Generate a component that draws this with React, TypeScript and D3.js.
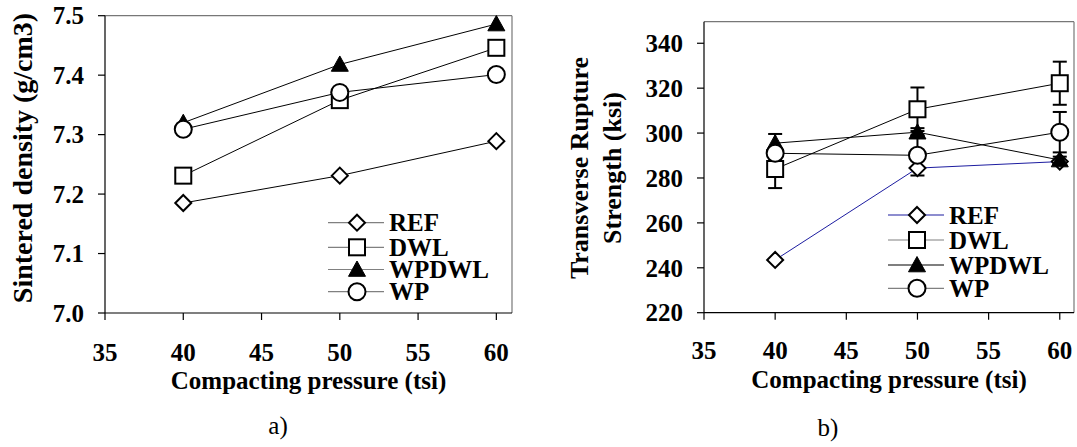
import React from 'react';
import * as d3 from 'd3';

// data
const pressures = [40, 50, 60];
const seriesNames = ['REF', 'DWL', 'WPDWL', 'WP'];

const densityREF = [7.185, 7.231, 7.289];
const densityDWL = [7.231, 7.358, 7.446];
const densityWPDWL = [7.32, 7.418, 7.486];
const densityWP = [7.309, 7.371, 7.401];

const trsREF = [243.5, 284.4, 287.3];
const trsDWL = [284, 310.6, 322.2];
const trsWPDWL = [295.5, 300.4, 288];
const trsWP = [291, 290.1, 300.4];

const trsErrREF = [0, 0, 0];
const trsErrDWL = [8.5, 9.7, 9.6];
const trsErrWPDWL = [4.1, 1.8, 1.5];
const trsErrWP = [0, 9, 9];

const xTicks = [35, 40, 45, 50, 55, 60];
const densityTicks = [7.0, 7.1, 7.2, 7.3, 7.4, 7.5];
const trsTicks = [220, 240, 260, 280, 300, 320, 340];

const FONT = "'Liberation Serif', 'Times New Roman', Times, 'DejaVu Serif', serif";
const FS = 25;
const txt = { fontFamily: FONT };

type Series = { name: string; values: number[]; errors?: number[] };

function Marker({ name, x, y }: { name: string; x: number; y: number }) {
  const sw = 2;
  if (name === 'REF') {
    const s = 8;
    return (
      <path
        d={`M${x},${y - s}L${x + s},${y}L${x},${y + s}L${x - s},${y}Z`}
        fill="#fff"
        stroke="#000"
        strokeWidth={sw}
      />
    );
  }
  if (name === 'DWL') {
    const s = 8;
    return <rect x={x - s} y={y - s} width={s * 2} height={s * 2} fill="#fff" stroke="#000" strokeWidth={sw} />;
  }
  if (name === 'WPDWL') {
    const s = 8.5;
    return <path d={`M${x},${y - s}L${x + s},${y + s * 0.8}L${x - s},${y + s * 0.8}Z`} fill="#000" stroke="#000" strokeWidth={1} />;
  }
  return <circle cx={x} cy={y} r={8.5} fill="#fff" stroke="#000" strokeWidth={sw} />;
}

type PanelProps = {
  left: number;
  right: number;
  top: number;
  bottom: number;
  yDomain: [number, number];
  yTicks: number[];
  yFormat: (v: number) => string;
  series: Series[];
  lineColors: string[];
  legendColors: string[];
  legendX: number;
  legendY: number[];
  yTitle: { lines: string[]; xs: number[]; cy: number; size: number };
  xLabelY: number;
  xTitleY: number;
  caption: string;
  captionX: number;
  captionY: number;
};

function Panel(p: PanelProps) {
  const x = d3.scaleLinear().domain([35, 61]).range([p.left, p.right]);
  const y = d3.scaleLinear().domain(p.yDomain).range([p.bottom, p.top]);
  const line = d3
    .line<number>()
    .x((_, i) => x(pressures[i]))
    .y((d) => y(d));
  const tick = 7;

  return (
    <g fill="#000">
      {/* frame */}
      <line x1={p.left} x2={p.right} y1={p.top} y2={p.top} stroke="#777" strokeWidth={1.2} />
      <line x1={p.right} x2={p.right} y1={p.top} y2={p.bottom} stroke="#777" strokeWidth={1.2} />
      <line x1={p.left} x2={p.left} y1={p.top} y2={p.bottom} stroke="#000" strokeWidth={1.2} />
      <line x1={p.left} x2={p.right} y1={p.bottom} y2={p.bottom} stroke="#000" strokeWidth={1.2} />

      {p.yTicks.map((t) => (
        <g key={'y' + t}>
          <line x1={p.left - tick} x2={p.left} y1={y(t)} y2={y(t)} stroke="#000" strokeWidth={1.2} />
          <text style={txt} x={p.left - 21} y={y(t)} dy="0.35em" textAnchor="end" fontSize={FS} fontWeight="bold">
            {p.yFormat(t)}
          </text>
        </g>
      ))}
      {xTicks.map((t) => (
        <g key={'x' + t}>
          <line x1={x(t)} x2={x(t)} y1={p.bottom} y2={p.bottom + tick} stroke="#000" strokeWidth={1.2} />
          <text style={txt} x={x(t)} y={p.xLabelY} textAnchor="middle" fontSize={FS} fontWeight="bold">
            {t}
          </text>
        </g>
      ))}

      <text style={txt} x={(p.left + p.right) / 2} y={p.xTitleY} textAnchor="middle" fontSize={FS} fontWeight="bold">
        Compacting pressure (tsi)
      </text>
      {p.yTitle.lines.map((l, i) => (
        <text
          key={l}
          style={txt}
          transform={`translate(${p.yTitle.xs[i]},${p.yTitle.cy}) rotate(-90)`}
          textAnchor="middle"
          fontSize={p.yTitle.size}
          fontWeight="bold"
        >
          {l}
        </text>
      ))}
      <text style={txt} x={p.captionX} y={p.captionY} textAnchor="middle" fontSize={FS}>
        {p.caption}
      </text>

      {/* series lines */}
      {p.series.map((s, i) => (
        <path key={'l' + s.name} d={line(s.values) || ''} fill="none" stroke={p.lineColors[i]} strokeWidth={1} />
      ))}
      {/* error bars */}
      {p.series.map((s) =>
        (s.errors || []).map((e, j) =>
          e > 0 ? (
            <g key={'e' + s.name + j} stroke="#000" strokeWidth={2}>
              <line x1={x(pressures[j])} x2={x(pressures[j])} y1={y(s.values[j] - e)} y2={y(s.values[j] + e)} />
              <line x1={x(pressures[j]) - 7} x2={x(pressures[j]) + 7} y1={y(s.values[j] + e)} y2={y(s.values[j] + e)} />
              <line x1={x(pressures[j]) - 7} x2={x(pressures[j]) + 7} y1={y(s.values[j] - e)} y2={y(s.values[j] - e)} />
            </g>
          ) : null
        )
      )}
      {/* markers */}
      {p.series.map((s) =>
        s.values.map((v, j) => <Marker key={'m' + s.name + j} name={s.name} x={x(pressures[j])} y={y(v)} />)
      )}

      {/* legend */}
      {p.series.map((s, i) => (
        <g key={'lg' + s.name}>
          <line
            x1={p.legendX}
            x2={p.legendX + 56}
            y1={p.legendY[i]}
            y2={p.legendY[i]}
            stroke={p.legendColors[i]}
            strokeWidth={1.2}
          />
          <Marker name={s.name} x={p.legendX + 29} y={p.legendY[i]} />
          <text style={txt} x={p.legendX + 61} y={p.legendY[i]} dy="0.35em" fontSize={FS} fontWeight="bold">
            {s.name}
          </text>
        </g>
      ))}
    </g>
  );
}

export default function App() {
  const densitySeries: Series[] = [
    { name: seriesNames[0], values: densityREF },
    { name: seriesNames[1], values: densityDWL },
    { name: seriesNames[2], values: densityWPDWL },
    { name: seriesNames[3], values: densityWP },
  ];
  const trsSeries: Series[] = [
    { name: seriesNames[0], values: trsREF, errors: trsErrREF },
    { name: seriesNames[1], values: trsDWL, errors: trsErrDWL },
    { name: seriesNames[2], values: trsWPDWL, errors: trsErrWPDWL },
    { name: seriesNames[3], values: trsWP, errors: trsErrWP },
  ];

  return (
    <svg
      width={1077}
      height={447}
      style={{ position: 'absolute', left: 0, top: 0, background: '#fff' }}
    >
      <rect width={1077} height={447} fill="#fff" />
      <Panel
        left={105}
        right={512}
        top={15.7}
        bottom={313}
        yDomain={[7.0, 7.5]}
        yTicks={densityTicks}
        yFormat={d3.format('.1f')}
        series={densitySeries}
        lineColors={['#000', '#000', '#000', '#000']}
        legendColors={['#808080', '#808080', '#808080', '#808080']}
        legendX={328}
        legendY={[222.7, 247.3, 269.5, 291.7]}
        yTitle={{ lines: ['Sintered density (g/cm3)'], xs: [32], cy: 158, size: 28 }}
        xLabelY={361}
        xTitleY={389}
        caption="a)"
        captionX={278}
        captionY={434}
      />
      <Panel
        left={704}
        right={1074}
        top={21.7}
        bottom={312.7}
        yDomain={[220, 349.6]}
        yTicks={trsTicks}
        yFormat={d3.format('d')}
        series={trsSeries}
        lineColors={['#1c1ca0', '#000', '#000', '#000']}
        legendColors={['#1c1ca0', '#808080', '#000', '#808080']}
        legendX={888}
        legendY={[215, 240, 265, 288.3]}
        yTitle={{ lines: ['Transverse Rupture', 'Strength (ksi)'], xs: [588, 621], cy: 168, size: 26 }}
        xLabelY={359}
        xTitleY={388}
        caption="b)"
        captionX={828}
        captionY={436}
      />
    </svg>
  );
}
